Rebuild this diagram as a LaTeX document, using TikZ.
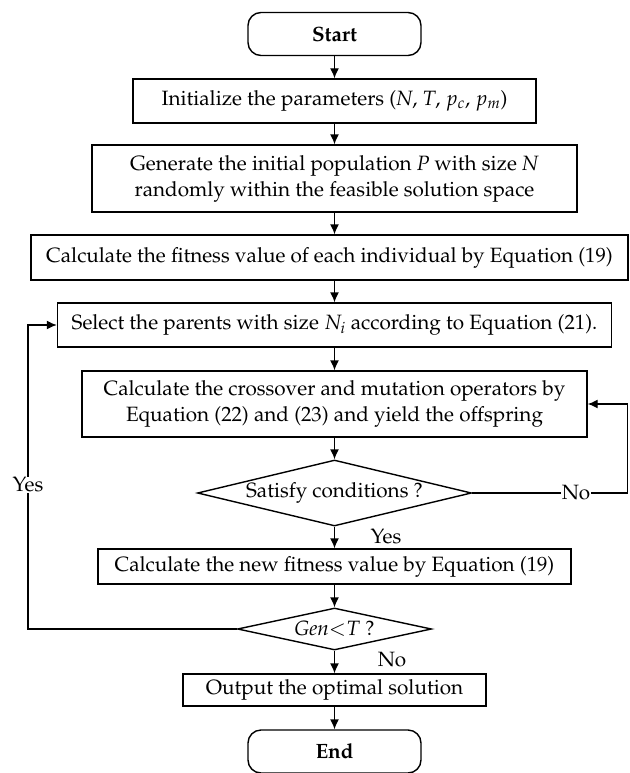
\documentclass[tikz,border=0pt]{standalone}
\usepackage[T1]{fontenc}
\usepackage{mathpazo}
\usetikzlibrary{shapes.geometric, arrows.meta}
\newcommand{\chartfont}{\fontsize{20.7}{26}\selectfont}
\tikzstyle{arrow} = [line width=1.4pt,-{Latex[length=10pt,width=9pt]}]
\tikzstyle{startstop} = [rectangle, draw, line width=1.4pt, rounded corners=13pt, font=\chartfont\bfseries, minimum width=173pt, minimum height=43pt]
\tikzstyle{process} = [rectangle, draw, line width=1.4pt, align=center, inner sep=0pt, font=\chartfont]
\tikzstyle{decision} = [diamond, draw, line width=1.4pt, inner sep=0pt, aspect=4, font=\chartfont]
\tikzstyle{tag} = [font=\chartfont, inner sep=1pt]

\begin{document}
\begin{tikzpicture}[x=1pt, y=-1pt]
        \useasboundingbox (0,0) rectangle (629,773);
        % Node positions
        \node[startstop] (start) at (334.5,34) {Start};
        \node[process, minimum width=403pt, minimum height=44pt] (init) at (334.5,101) {Initialize the parameters (\textit{N}, \textit{T}, $p_c$, $p_m$)};
        \node[process, minimum width=485pt, minimum height=67pt] (gen) at (334.5,178.5) {Generate the initial population \textit{P} with size \textit{N}\\ randomly within the feasible solution space};
        \node[process, minimum width=597pt, minimum height=45pt] (fit) at (329.5,257.5) {Calculate the fitness value of each individual by Equation (19)};
        \node[process, minimum width=554pt, minimum height=44pt] (sel) at (334.5,325) {Select the parents with size $N_i$ according to Equation (21).};
        \node[process, minimum width=505pt, minimum height=66pt] (cross) at (334.5,404) {Calculate the crossover and mutation operators by\\ Equation (22) and (23) and yield the offspring};
        \node[decision, minimum width=274pt, minimum height=66pt] (sat) at (334.5,493) {Satisfy conditions ?};
        \node[process, minimum width=473pt, minimum height=35pt] (newfit) at (334.5,566.5) {Calculate the new fitness value by Equation (19)};
        \node[decision, minimum width=194pt, minimum height=42pt] (gent) at (334.5,629) {$\mathit{Gen}{<}T$ ?};
        \node[process, minimum width=303pt, minimum height=32pt] (out) at (334.5,690) {Output the optimal solution};
        \node[startstop] (end) at (334.5,751.5) {End};
        \coordinate (lp) at (28,325);
        \coordinate (rp) at (627.5,493);

        \draw [arrow] (start) -- (init);
        \draw [arrow] (init) -- (gen);
        \draw [arrow] (gen) -- (gen |- fit.north);
        \draw [arrow] (fit.south -| sel) -- (sel);
        \draw [arrow] (sel) -- (cross);
        \draw [arrow] (cross) -- (sat);
        \draw [arrow] (sat) -- (newfit);
        \draw [arrow] (newfit) -- (gent);
        \draw [arrow] (gent) -- (out);
        \draw [arrow] (out) -- (end);

        % loops
        \draw [arrow] (gent.west) -| (lp) -- (sel.west);
        \draw [arrow] (sat.east) -- (rp) |- (cross.east);
        \node[tag, fill=white] (yes1) at (28,485) {Yes};
        \node[tag, fill=white] (no1) at (576,493) {No};
        \node[tag] (yes2) at (386,537) {Yes};
        \node[tag] (no2) at (392,660) {No};
\end{tikzpicture}
\end{document}
